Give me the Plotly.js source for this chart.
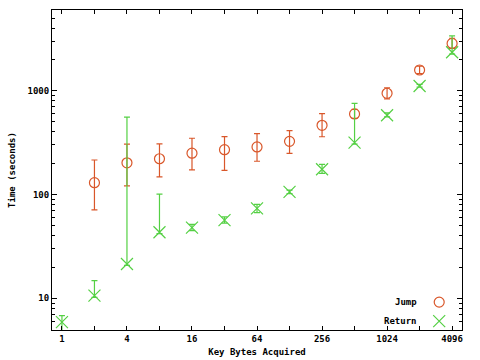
<!DOCTYPE html>
<html>
<head>
<meta charset="utf-8">
<script src="https://cdn.plot.ly/plotly-3.0.1.min.js"></script>
<style>html,body{margin:0;padding:0;background:#fff}#chart{width:480px;height:360px}</style>
</head>
<body>
<div id="chart"></div>
<script>
// ---- data ----
const jumpX = [2, 4, 8, 16, 32, 64, 128, 256, 512, 1024, 2048, 4096];
const jumpMean = [130, 202, 221, 250, 270, 287, 325, 464, 597, 944, 1582, 2850];
const jumpHigh = [215, 305, 308, 348, 361, 385, 412, 600, 660, 1062, 1720, 3200];
const jumpLow = [71, 121, 148, 173, 171, 209, 249, 360, 540, 832, 1460, 2550];

const returnX = [1, 2, 4, 8, 16, 32, 64, 128, 256, 512, 1024, 2048, 4096];
const returnMean = [5.9, 10.6, 21.4, 43.3, 47.9, 56.7, 73.6, 106, 175, 316, 580, 1110, 2344];
const returnHigh = [6.8, 14.8, 555, 101, 51.6, 61, 80.5, 110, 195, 756, 610, 1150, 3366];
const returnLow = [4.5, 10.2, 20.8, 42, 44.8, 53, 67, 102, 160, 305, 560, 1080, 2250];

const xTickVals = [1, 2, 4, 8, 16, 32, 64, 128, 256, 512, 1024, 2048, 4096];
const xTickText = ['1', '', '4', '', '16', '', '64', '', '256', '', '1024', '', '4096'];
const yTickVals = [10, 100, 1000];
const yTickText = ['10', '100', '1000'];
const seriesNames = ['Jump', 'Return'];
const xTitle = 'Key Bytes Acquired';
const yTitle = 'Time (seconds)';

// ---- styling ----
const orange = '#d9572a';
const green = '#55d044';
const font = {family: 'DejaVu Sans Mono', size: 9, color: '#000', weight: 'bold'};

function diffs(hi, mid) { return hi.map((h, i) => h - mid[i]); }
function diffsMinus(lo, mid) { return lo.map((l, i) => mid[i] - l); }

const yMinor = [];
for (const d of [1, 10, 100, 1000]) for (let k = 2; k <= 9; k++) yMinor.push(d * k);

const traces = [
  {
    x: jumpX, y: jumpMean, type: 'scatter', mode: 'markers', name: ' ',
    marker: {symbol: 'circle-open', size: 10, color: orange, line: {width: 1.2, color: orange}},
    error_y: {type: 'data', symmetric: false, array: diffs(jumpHigh, jumpMean),
      arrayminus: diffsMinus(jumpLow, jumpMean), color: orange, thickness: 1.2, width: 3},
    cliponaxis: true
  },
  {
    x: returnX, y: returnMean, type: 'scatter', mode: 'markers', name: ' ',
    marker: {symbol: 'x-thin-open', size: 12, color: green, line: {width: 1.2, color: green}},
    error_y: {type: 'data', symmetric: false, array: diffs(returnHigh, returnMean),
      arrayminus: diffsMinus(returnLow, returnMean), color: green, thickness: 1.2, width: 3},
    cliponaxis: true
  }
];

const layout = {
  width: 480, height: 360,
  margin: {l: 52, r: 16, t: 10, b: 30},
  paper_bgcolor: '#fff', plot_bgcolor: '#fff',
  font: font,
  showlegend: true,
  legend: {x: 1.02, y: -0.0175, xanchor: 'right', yanchor: 'bottom', bgcolor: 'rgba(0,0,0,0)',
    font: font, tracegroupgap: 0, itemwidth: 30},
  xaxis: {
    type: 'log', range: [-0.092, 3.704],
    tickvals: xTickVals, ticktext: xTickText,
    ticks: 'inside', ticklen: 4, tickcolor: '#000', tickwidth: 1,
    showgrid: false, zeroline: false,
    showline: true, linecolor: '#000', linewidth: 1, mirror: 'allticks',
    tickfont: font,
    title: {text: xTitle, font: font, standoff: 5}
  },
  yaxis: {
    type: 'log', range: [0.695, 3.777],
    tickvals: yTickVals, ticktext: yTickText,
    ticks: 'inside', ticklen: 5, tickcolor: '#000', tickwidth: 1,
    minor: {tickvals: yMinor, ticks: 'inside', ticklen: 3, tickcolor: '#000', showgrid: false},
    showgrid: false, zeroline: false,
    showline: true, linecolor: '#000', linewidth: 1, mirror: 'allticks',
    tickfont: font,
    title: {text: yTitle, font: font, standoff: 10}
  },
  annotations: [
    {xref: 'paper', yref: 'paper', x: 0.896, y: 0.0875, text: seriesNames[0], showarrow: false,
      xanchor: 'right', yanchor: 'middle', font: font},
    {xref: 'paper', yref: 'paper', x: 0.896, y: 0.0285, text: seriesNames[1], showarrow: false,
      xanchor: 'right', yanchor: 'middle', font: font}
  ]
};

Plotly.newPlot('chart', traces, layout, {displayModeBar: false, staticPlot: true});
</script>
</body>
</html>
